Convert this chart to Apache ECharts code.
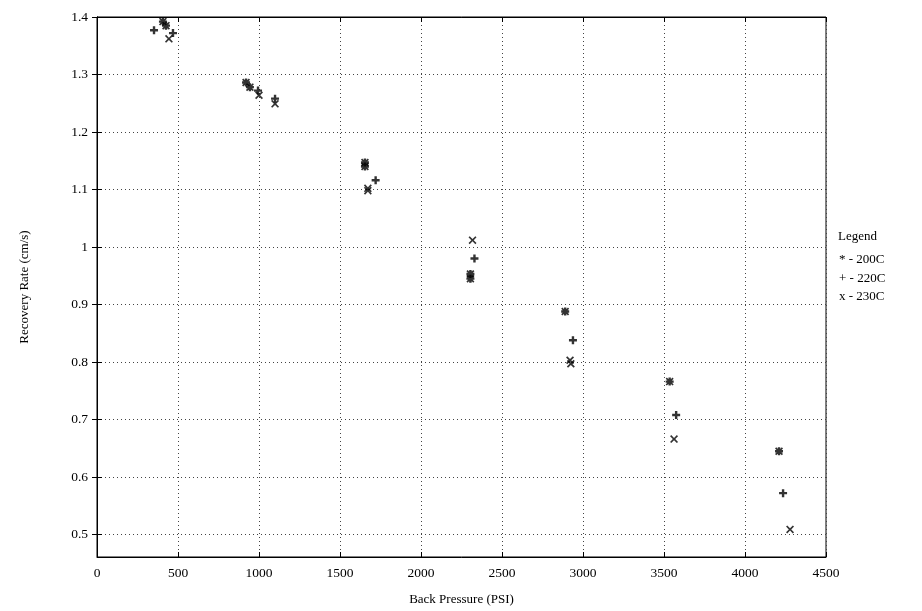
<!DOCTYPE html>
<html>
<head>
<meta charset="utf-8">
<script src="https://cdn.jsdelivr.net/npm/echarts@6/dist/echarts.min.js"></script>
<style>
  html, body { margin: 0; padding: 0; background: #fff; }
  #main { width: 922px; height: 611px; }
</style>
</head>
<body>
<div id="main"></div>
<script>
// data: [back pressure (PSI), recovery rate (cm/s)]
var seriesNames = ['200C', '220C', '230C'];
var legendMarks = ['*', '+', 'x'];
var pts200 = [[407, 1.392], [426, 1.385], [920, 1.286], [944, 1.278], [1654, 1.147], [1654, 1.140],
              [2305, 0.953], [2305, 0.945], [2890, 0.888], [3535, 0.766], [4210, 0.645]];
var pts220 = [[352, 1.377], [469, 1.372], [994, 1.272], [1099, 1.258], [1720, 1.116],
              [2330, 0.980], [2938, 0.838], [3575, 0.708], [4235, 0.572]];
var pts230 = [[444, 1.362], [1000, 1.264], [1099, 1.249], [1672, 1.102], [1672, 1.098],
              [2318, 1.012], [2920, 0.803], [2925, 0.797], [3562, 0.666], [4278, 0.509]];
var xTicks = [0, 500, 1000, 1500, 2000, 2500, 3000, 3500, 4000, 4500];
var yTicks = [0.5, 0.6, 0.7, 0.8, 0.9, 1.0, 1.1, 1.2, 1.3, 1.4];
// the scanned y axis runs a little below 0.5 at the bottom edge
var yMin = 0.461, yMax = 1.4;

var font = 'Liberation Serif';
// marker shapes (filled polygons, scan marks look heavy)
var plusPath = 'path://M3.5,0H6.5V3.5H10V6.5H6.5V10H3.5V6.5H0V3.5H3.5Z';
var crossPath = 'path://M0,1.5L1.5,0L5,3.5L8.5,0L10,1.5L6.5,5L10,8.5L8.5,10L5,6.5L1.5,10L0,8.5L3.5,5Z';
var starPath = plusPath + ' ' + crossPath.replace('path://', '');

var myChart = echarts.init(document.getElementById('main'));

function mkSeries(name, data, sym, size) {
  return {
    name: name,
    type: 'scatter',
    data: data,
    symbol: sym,
    symbolSize: size,
    itemStyle: { color: '#000' },
    xAxisIndex: 0,
    yAxisIndex: 0
  };
}

var tickStyle = { show: true, inside: true, length: 5, lineStyle: { color: '#000' } };
var gridLine = { show: true, lineStyle: { color: '#444', type: [1, 3], width: 1 } };

var option = {
  animation: false,
  backgroundColor: '#fff',
  grid: {
    left: 97,
    right: 96,
    top: 17,
    bottom: 54,
    show: true,
    borderColor: '#000',
    borderWidth: 1
  },
  legend: {
    orient: 'vertical',
    left: 833,
    top: 248,
    icon: 'none',
    itemWidth: 0,
    itemGap: 5,
    selectedMode: false,
    textStyle: { fontFamily: font, fontSize: 13, color: '#000', padding: [0, 0, 0, -4] },
    formatter: function (name) {
      return legendMarks[seriesNames.indexOf(name)] + ' - ' + name;
    },
    data: seriesNames
  },
  graphic: [{
    type: 'text',
    left: 838,
    top: 230,
    style: { text: 'Legend', fontFamily: font, fontSize: 13, fill: '#000' }
  }],
  xAxis: [{
    type: 'value',
    min: 0,
    max: 4500,
    interval: 500,
    name: 'Back Pressure (PSI)',
    nameLocation: 'middle',
    nameGap: 36,
    nameTextStyle: { fontFamily: font, fontSize: 13, color: '#000' },
    axisLine: { show: true, lineStyle: { color: '#000' } },
    axisTick: tickStyle,
    axisLabel: {
      fontFamily: font, fontSize: 13.5, color: '#000', margin: 9,
      formatter: function (v) { return String(v); }
    },
    splitLine: gridLine
  }, {
    type: 'value',
    position: 'top',
    min: 0,
    max: 4500,
    interval: 500,
    axisLine: { show: true, lineStyle: { color: '#000' } },
    axisTick: tickStyle,
    axisLabel: { show: false },
    splitLine: { show: false }
  }],
  yAxis: [{
    type: 'value',
    min: yMin,
    max: yMax,
    name: 'Recovery Rate (cm/s)',
    nameLocation: 'middle',
    nameGap: 66,
    nameTextStyle: { fontFamily: font, fontSize: 13, color: '#000' },
    axisLine: { show: true, lineStyle: { color: '#000' } },
    axisTick: { show: true, inside: true, length: 5, lineStyle: { color: '#000' }, customValues: yTicks },
    axisLabel: {
      fontFamily: font, fontSize: 13.5, color: '#000', margin: 9,
      customValues: yTicks,
      formatter: function (v) { return String(parseFloat(v.toFixed(1))); }
    },
    splitLine: gridLine
  }, {
    type: 'value',
    position: 'right',
    min: yMin,
    max: yMax,
    axisLine: { show: true, lineStyle: { color: '#000' } },
    axisTick: { show: true, inside: true, length: 5, lineStyle: { color: '#000' }, customValues: yTicks },
    axisLabel: { show: false, customValues: yTicks },
    splitLine: { show: false }
  }],
  series: [
    mkSeries('200C', pts200, starPath, 8),
    mkSeries('220C', pts220, plusPath, 8),
    mkSeries('230C', pts230, crossPath, 8)
  ]
};

myChart.setOption(option);
</script>
</body>
</html>
